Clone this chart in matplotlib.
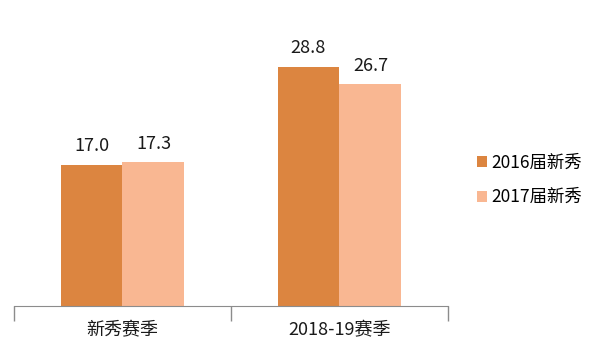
import matplotlib
matplotlib.use("Agg")
import matplotlib.pyplot as plt
import numpy as np

plt.rcParams['font.family'] = ['Noto Sans CJK SC', 'DejaVu Sans']

categories = ['新秀赛季', '2018-19赛季']
series_names = ['2016届新秀', '2017届新秀']
values_2016 = [17.0, 28.8]
values_2017 = [17.3, 26.7]
colors = ['#DC8540', '#F9B792']

fig = plt.figure(figsize=(5.9, 3.44), dpi=100)
ax = fig.add_axes([14/590, 38/344, 434/590, 296/344])

x = np.arange(len(categories))
w = 0.2857
b1 = ax.bar(x - w/2, values_2016, w, color=colors[0], label=series_names[0])
b2 = ax.bar(x + w/2, values_2017, w, color=colors[1], label=series_names[1])

for bars, vals in ((b1, values_2016), (b2, values_2017)):
    for r, v in zip(bars, vals):
        ax.annotate(f'{v:.1f}', (r.get_x() + r.get_width()/2, r.get_height()),
                    xytext=(0, 7), textcoords='offset points', ha='center', va='bottom',
                    fontsize=13, color='#1a1a1a')

ax.set_xlim(-0.5, len(categories) - 0.5)
ax.set_ylim(0, 296/8.3)
for s in ['top', 'right', 'left']:
    ax.spines[s].set_visible(False)
ax.spines['bottom'].set_color('#8c8c8c')
ax.set_yticks([])
ax.set_xticks(x)
ax.set_xticklabels(categories, fontsize=13, color='#1a1a1a')
ax.tick_params(axis='x', which='major', length=0, pad=11)
ax.set_xticks(np.arange(-0.5, len(categories)), minor=True)
ax.tick_params(axis='x', which='minor', length=11, color='#8c8c8c', width=1)

leg = fig.legend(handles=[b1, b2], labels=series_names, loc='center left',
                 bbox_to_anchor=(461/590, 1 - 180/344), frameon=False, fontsize=12.5,
                 handlelength=0.6, handleheight=0.6, handletextpad=0.25, labelspacing=0.95)

fig.savefig('out.png', dpi=100)
